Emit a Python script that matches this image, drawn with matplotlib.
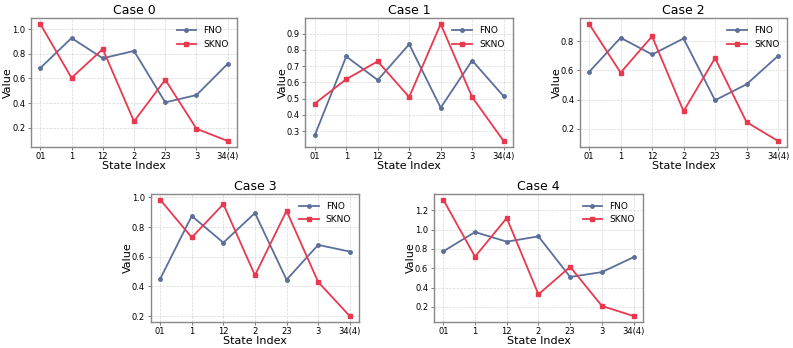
import matplotlib
matplotlib.use("Agg")
import matplotlib.pyplot as plt
from matplotlib.ticker import MultipleLocator
import numpy as np

estados = ["01", "1", "12", "2", "23", "3", "34(4)"]

fno_0 = [0.685, 0.93, 0.765, 0.825, 0.405, 0.465, 0.72]
skno_0 = [1.045, 0.605, 0.84, 0.25, 0.59, 0.19, 0.09]
fno_1 = [0.275, 0.76, 0.615, 0.835, 0.445, 0.735, 0.515]
skno_1 = [0.47, 0.62, 0.73, 0.51, 0.96, 0.51, 0.24]
fno_2 = [0.59, 0.825, 0.71, 0.82, 0.395, 0.505, 0.70]
skno_2 = [0.92, 0.585, 0.835, 0.32, 0.685, 0.245, 0.115]
fno_3 = [0.45, 0.875, 0.695, 0.895, 0.445, 0.68, 0.635]
skno_3 = [0.985, 0.73, 0.955, 0.475, 0.91, 0.43, 0.20]
fno_4 = [0.775, 0.975, 0.875, 0.93, 0.51, 0.56, 0.715]
skno_4 = [1.31, 0.72, 1.12, 0.33, 0.615, 0.21, 0.105]

casos = [(fno_0, skno_0), (fno_1, skno_1), (fno_2, skno_2), (fno_3, skno_3), (fno_4, skno_4)]
passos_y = [0.2, 0.1, 0.2, 0.2, 0.2]

cor_fno = '#5b6f99'
cor_skno = '#e8394f'

fig = plt.figure(figsize=(7.93, 3.48), dpi=100)

# posições dos eixos (esquerda, baixo, largura, altura)
posicoes = [
    [0.039, 0.578, 0.260, 0.370],
    [0.385, 0.578, 0.262, 0.370],
    [0.731, 0.578, 0.262, 0.370],
    [0.190, 0.075, 0.263, 0.368],
    [0.547, 0.075, 0.264, 0.368],
]

x = np.arange(len(estados))
for i, (fno, skno) in enumerate(casos):
    ax = fig.add_axes(posicoes[i])
    ax.plot(x, fno, color=cor_fno, marker='o', markersize=2.5, linewidth=1.3, label='FNO')
    ax.plot(x, skno, color=cor_skno, marker='s', markersize=2.5, linewidth=1.3, label='SKNO')
    ax.set_title(f'Case {i}', fontsize=9, pad=3)
    ax.set_xlabel('State Index', fontsize=8, labelpad=0)
    ax.set_ylabel('Value', fontsize=8)
    ax.yaxis.set_label_coords(-0.085, 0.5)
    ax.set_xticks(x)
    ax.set_xticklabels(estados)
    ax.yaxis.set_major_locator(MultipleLocator(passos_y[i]))
    ax.tick_params(labelsize=6, length=2.5, width=0.6, pad=1.5, color='#666666')
    ax.grid(True, linestyle='--', linewidth=0.5, alpha=0.5)
    for sp in ax.spines.values():
        sp.set_color('#888888')
        sp.set_linewidth(1.0)
    ax.legend(fontsize=6.5, frameon=False, loc='upper right', handlelength=2.2)

plt.savefig('out.png', dpi=100)
